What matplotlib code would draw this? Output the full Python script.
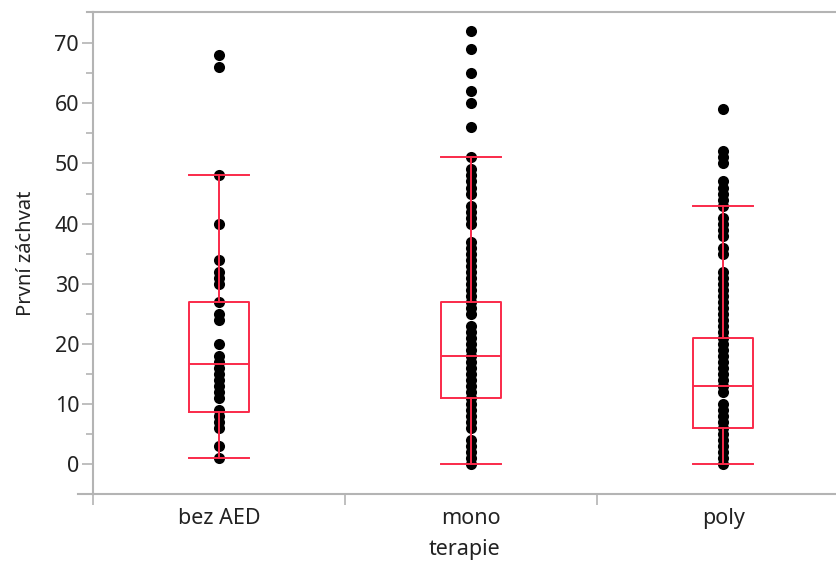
import numpy as np
import matplotlib
matplotlib.use("Agg")
import matplotlib.pyplot as plt

plt.rcParams['font.family'] = ['Noto Sans', 'DejaVu Sans']

categories = ["bez AED", "mono", "poly"]

# hodnoty bodů
bez_aed = [68, 66, 48, 40, 34, 32, 31, 30, 27, 25, 24, 20, 18, 17, 16, 15,
           14, 13, 12, 11, 9, 8, 7, 6, 3, 1]
mono = ([72, 69, 65, 62, 60, 56, 51, 49, 48, 47, 46, 45, 43, 42, 41, 40]
        + list(range(37, 24, -1)) + list(range(23, 5, -1)) + [4, 3, 2, 1, 0])
poly = ([59, 52, 51, 50, 47, 46, 45, 44, 43, 41, 40, 39, 38, 36, 35]
        + list(range(32, 11, -1)) + list(range(10, -1, -1)))
groups = [bez_aed, mono, poly]

# statistiky krabicových grafů
whis_lo = [1, 0, 0]
q1 = [8.7, 11, 6]
medians = [16.6, 18, 13]
q3 = [27, 27, 21]
whis_hi = [48, 51, 43]

red = "#fa2a4a"
grey = "#b4b4b4"
txt = "#222222"

fig = plt.figure(figsize=(8.36, 5.61), dpi=100)
ax = fig.add_axes([0.1112, 0.1194, 0.8888, 0.8592])

for i, vals in enumerate(groups):
    ax.plot(np.full(len(vals), i), vals, "o", color="black", ms=8.0,
            mec="black", mew=0, zorder=2)

stats = []
for i in range(3):
    stats.append(dict(med=medians[i], q1=q1[i], q3=q3[i],
                      whislo=whis_lo[i], whishi=whis_hi[i], fliers=[]))
ax.bxp(stats, positions=range(3), widths=0.235, capwidths=0.24,
       showfliers=False,
       boxprops=dict(color=red, lw=1.4),
       medianprops=dict(color=red, lw=1.4),
       whiskerprops=dict(color=red, lw=1.4),
       capprops=dict(color=red, lw=1.4),
       zorder=3)

ax.set_xlim(-0.5, 2.448)
ax.set_ylim(-5, 75.2)

ax.set_xticks(range(3))
ax.set_xticklabels(categories)
ax.set_xticks([-0.5, 0.5, 1.5], minor=True)
ax.tick_params(axis="x", which="major", length=0, pad=10, labelsize=15.5,
               labelcolor=txt)
ax.tick_params(axis="x", which="minor", length=8, width=1.2, color=grey)

ax.set_yticks(range(0, 71, 10))
ax.set_yticks(range(5, 70, 10), minor=True)
ax.tick_params(axis="y", which="major", length=8, width=1.2, color=grey,
               labelsize=15.5, labelcolor=txt, pad=2)
ax.tick_params(axis="y", which="minor", length=5, width=1.2, color=grey)

ax.set_xlabel("terapie", fontsize=15.5, color=txt, labelpad=7)
ax.set_ylabel("První záchvat", fontsize=14.5, color=txt, labelpad=13)

for side in ["left", "bottom", "top"]:
    ax.spines[side].set_color(grey)
    ax.spines[side].set_linewidth(1.5)
ax.spines["right"].set_visible(False)

# přesahy os jako v originále
ax.plot([-0.02, 0], [0, 0], transform=ax.transAxes, color=grey, lw=1.5,
        clip_on=False)
ax.plot([-0.008, 0], [1, 1], transform=ax.transAxes, color=grey, lw=1.5,
        clip_on=False)

fig.savefig("out.png", dpi=100)
